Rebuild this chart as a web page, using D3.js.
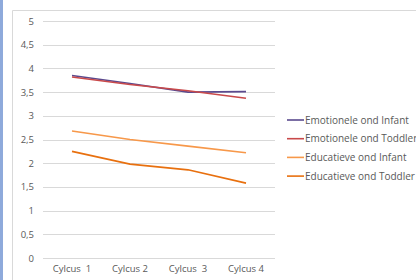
<!DOCTYPE html>
<html><head><meta charset="utf-8">
<script src="https://cdn.jsdelivr.net/npm/d3@7"></script>
<style>
html,body{margin:0;padding:0;background:#fff;}
svg{display:block;}
text{font-family:"Open Sans","Noto Sans",sans-serif;}
</style></head>
<body>
<script>
const categories = ["Cylcus  1", "Cylcus 2", "Cylcus  3", "Cylcus 4"];
const seriesNames = ["Emotionele ond Infant", "Emotionele ond Toddler", "Educatieve ond Infant", "Educatieve ond Toddler"];
const emotioneleInfant = [3.85, 3.68, 3.50, 3.51];
const emotioneleToddler = [3.82, 3.66, 3.53, 3.37];
const educatieveInfant = [2.68, 2.50, 2.36, 2.22];
const educatieveToddler = [2.25, 1.98, 1.86, 1.58];
const yTicks = [0, 0.5, 1, 1.5, 2, 2.5, 3, 3.5, 4, 4.5, 5];
const colors = ["#5b4a8e", "#c9494a", "#f7984a", "#e8700f"];

const W = 416, H = 280;
const svg = d3.select("body").append("svg").attr("width", W).attr("height", H);

svg.append("rect").attr("x", 0).attr("y", 0).attr("width", 3).attr("height", H).attr("fill", "#8eaadb");
svg.append("path").attr("d", "M12.5," + H + "V10.5H" + W).attr("fill", "none").attr("stroke", "#d9d9d9");

const x = d3.scaleBand().domain(categories).range([43, 275]);
const y = d3.scaleLinear().domain([0, 5]).range([258, 21]);

svg.append("g").selectAll("line").data(yTicks).join("line")
  .attr("x1", 43).attr("x2", 275)
  .attr("y1", d => Math.round(y(d)) + 0.5).attr("y2", d => Math.round(y(d)) + 0.5)
  .attr("stroke", "#d9d9d9").attr("stroke-width", 1);

const yAxis = d3.axisLeft(y).tickValues(yTicks).tickSize(0).tickPadding(0)
  .tickFormat(d => String(d).replace(".", ","));
const gy = svg.append("g").attr("transform", "translate(34,0)").call(yAxis);
gy.select(".domain").remove();
gy.selectAll("text").attr("fill", "#595959").style("font-size", "9.5px");

const xAxis = d3.axisBottom(x).tickSize(0).tickPadding(0);
const gx = svg.append("g").attr("transform", "translate(0,265)").call(xAxis);
gx.select(".domain").remove();
gx.selectAll("text").attr("fill", "#595959").style("font-size", "9.5px").style("white-space", "pre");

const data = [emotioneleInfant, emotioneleToddler, educatieveInfant, educatieveToddler];
const line = d3.line().x((d, i) => x(categories[i]) + x.bandwidth() / 2).y(d => y(d));

svg.append("g").selectAll("path").data(data).join("path")
  .attr("d", line).attr("fill", "none")
  .attr("stroke", (d, i) => colors[i]).attr("stroke-width", 1.6);

const lg = svg.append("g").selectAll("g").data(seriesNames).join("g")
  .attr("transform", (d, i) => "translate(287," + (120 + i * 18.7) + ")");
lg.append("line").attr("x1", 0).attr("x2", 17).attr("y1", 0).attr("y2", 0)
  .attr("stroke", (d, i) => colors[i]).attr("stroke-width", 1.6);
lg.append("text").attr("x", 18).attr("y", 0).attr("dy", "0.35em")
  .attr("fill", "#595959").style("font-size", "10px").text(d => d);
</script>
</body></html>
